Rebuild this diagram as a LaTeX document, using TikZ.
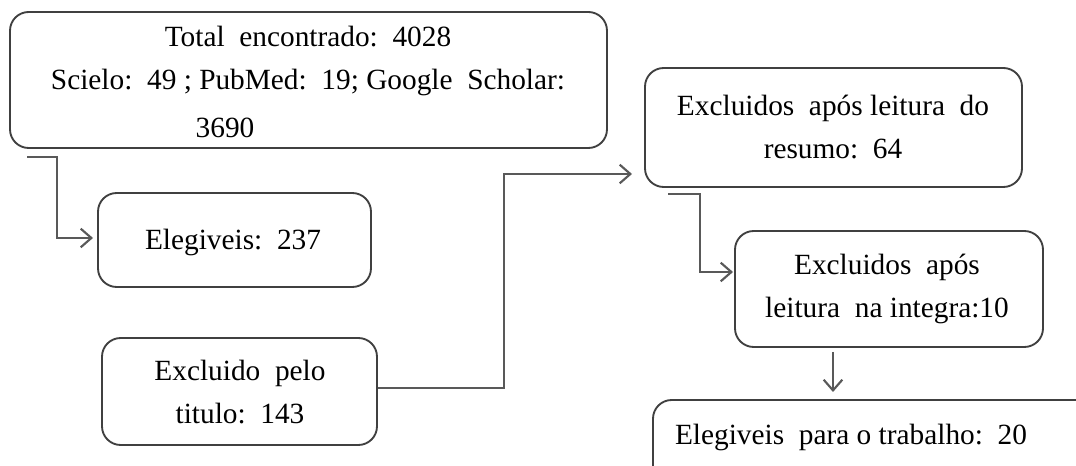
\documentclass[tikz,border=0pt]{standalone}
\usepackage{fontspec}
\setmainfont{Liberation Serif}
\usetikzlibrary{arrows.meta}
\begin{document}
\begin{tikzpicture}[x=0.75pt,y=-0.75pt,
  box/.style={draw=black!75, line width=1.4pt, rounded corners=14pt, inner sep=0pt, fill=white},
  txt/.style={align=center, inner sep=0pt, text=black, font=\fontsize{22}{32}\selectfont},
  conn/.style={draw=black!65, line width=2pt, -{Straight Barb[length=8pt,width=14pt,line width=1.6pt]}}]
\useasboundingbox (0,0) rectangle (1076,466);
\clip (0,0) rectangle (1076,466);
% boxes
\node[box, minimum width=447.75pt, minimum height=102pt] (b1) at (308.5,80) {};
\node[box, minimum width=204.75pt, minimum height=70.5pt] (b2) at (234.5,240) {};
\node[box, minimum width=206.25pt, minimum height=80.25pt] (b3) at (239.5,391.5) {};
\node[box, minimum width=282.75pt, minimum height=89.25pt] (b4) at (833.5,127.5) {};
\node[box, minimum width=231pt, minimum height=87pt] (b5) at (889,289) {};
\node[box, minimum width=335.25pt, minimum height=75pt] (b6) at (876.5,450) {};
% texts
\node[txt] (t1) at (308,61) {Total\ \ encontrado:\ \ 4028\\Scielo:\ \ 49 ; PubMed:\ \ 19; Google\ \ Scholar:};
\node[txt] (t1b) at (225,128) {3690};
\node[txt] (t2) at (233,242) {Elegiveis:\ \ 237};
\node[txt] (t3) at (240,392) {Excluido\ \ pelo\\titulo:\ \ 143};
\node[txt] (t4) at (833,127) {Excluidos\ \ após leitura\ \ do\\resumo:\ \ 64};
\node[txt] (t5) at (887,289) {Excluidos\ \ após\\leitura\ \ na integra:10};
\node[txt] (t6) at (851,437) {Elegiveis\ \ para o trabalho:\ \ 20};
% connector coordinates
\coordinate (c1s) at (27,157);
\coordinate (c1m) at (57,157);
\coordinate (c1e) at (93,238);
\coordinate (c2m) at (504,388);
\coordinate (c2e) at (632,174);
\coordinate (c3s) at (668,194);
\coordinate (c3m) at (700,194);
\coordinate (c3e) at (733,272);
\coordinate (c4s) at (833,352);
\coordinate (c4e) at (833,392);
% connectors
\draw[conn] (c1s) -- (c1m) |- (c1e);
\draw[conn] (b3.east |- c2m) -- (c2m) |- (c2e);
\draw[conn] (c3s) -- (c3m) |- (c3e);
\draw[conn] (c4s) -- (c4e);
\end{tikzpicture}
\end{document}
